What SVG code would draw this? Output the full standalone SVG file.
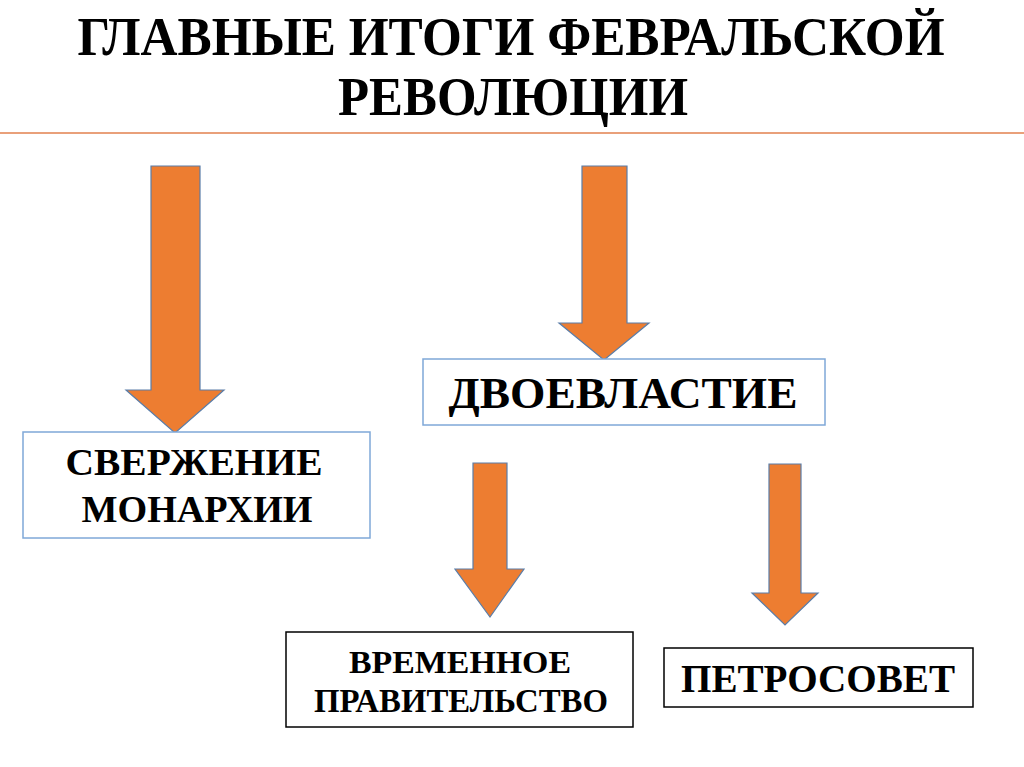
<svg xmlns="http://www.w3.org/2000/svg" width="1024" height="767" viewBox="0 0 1024 767">
<style>
  text { font-family: "Liberation Serif", "Times New Roman", serif; font-weight: bold; fill: #000; text-anchor: middle; }
  .arrow { fill: #ED7D31; stroke: #5A7DA8; stroke-width: 1.2; stroke-linejoin: miter; }
  .boxb { fill: #fff; stroke: #7FA8D8; stroke-width: 1.5; }
  .boxk { fill: #fff; stroke: #000; stroke-width: 1.5; }
</style>
<rect x="0" y="0" width="1024" height="767" fill="#fff"/>
<g id="title">
  <text x="511" y="55" font-size="55" textLength="867" lengthAdjust="spacingAndGlyphs">ГЛАВНЫЕ ИТОГИ ФЕВРАЛЬСКОЙ</text>
  <text x="513" y="115" font-size="55" textLength="350" lengthAdjust="spacingAndGlyphs">РЕВОЛЮЦИИ</text>
  <line x1="0" y1="133" x2="1024" y2="133" stroke="#E9A07A" stroke-width="2"/>
</g>
<g id="connectors">
  <polygon class="arrow" points="151,166 200,166 200,390 224,390 175,433 126,390 151,390"/>
  <polygon class="arrow" points="582,166 627,166 627,323 649,323 604,360 559,323 582,323"/>
  <polygon class="arrow" points="473,463 507,463 507,569 524,569 490,617 455,569 473,569"/>
  <polygon class="arrow" points="769,464 801,464 801,593 818,593 785,625 752,593 769,593"/>
</g>
<g id="node-monarchy">
  <rect class="boxb" x="23" y="432" width="347" height="106"/>
  <text x="194" y="475" font-size="38" textLength="257" lengthAdjust="spacingAndGlyphs">СВЕРЖЕНИЕ</text>
  <text x="197" y="522" font-size="38" textLength="231" lengthAdjust="spacingAndGlyphs">МОНАРХИИ</text>
</g>
<g id="node-dual-power">
  <rect class="boxb" x="423" y="359" width="402" height="66"/>
  <text x="623" y="408" font-size="45" textLength="349" lengthAdjust="spacingAndGlyphs">ДВОЕВЛАСТИЕ</text>
</g>
<g id="node-provisional">
  <rect class="boxk" x="286" y="632" width="347" height="95"/>
  <text x="460" y="673" font-size="32" textLength="222" lengthAdjust="spacingAndGlyphs">ВРЕМЕННОЕ</text>
  <text x="461" y="712" font-size="34" textLength="294" lengthAdjust="spacingAndGlyphs">ПРАВИТЕЛЬСТВО</text>
</g>
<g id="node-petrosoviet">
  <rect class="boxk" x="664" y="648" width="309" height="59"/>
  <text x="818" y="692" font-size="40" textLength="274" lengthAdjust="spacingAndGlyphs">ПЕТРОСОВЕТ</text>
</g>
</svg>
